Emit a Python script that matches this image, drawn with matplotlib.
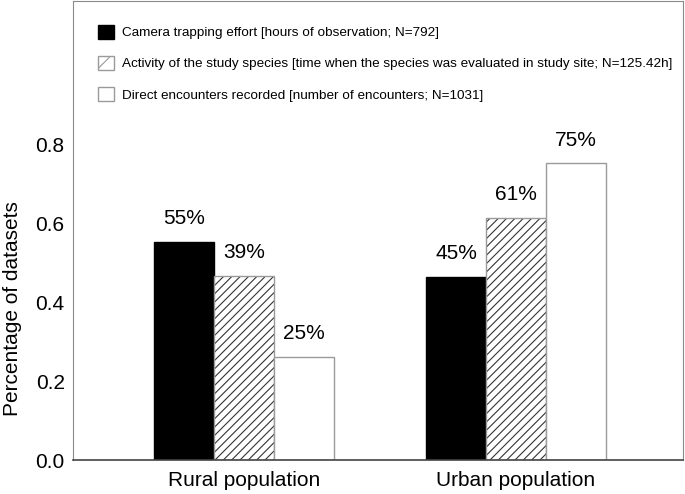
import matplotlib
matplotlib.use("Agg")
import matplotlib.pyplot as plt
from matplotlib.patches import Patch
import numpy as np

plt.rcParams['font.family'] = ['Liberation Sans', 'DejaVu Sans']
plt.rcParams['hatch.linewidth'] = 0.8

groups = ['Rural population', 'Urban population']
series = ['Camera trapping effort [hours of observation; N=792]',
          'Activity of the study species [time when the species was evaluated in study site; N=125.42h]',
          'Direct encounters recorded [number of encounters; N=1031]']
heights = [[0.554, 0.464],
           [0.468, 0.614],
           [0.261, 0.753]]
labels = [['55%', '45%'],
          ['39%', '61%'],
          ['25%', '75%']]

fills = ['black', 'white', 'white']
hatches = [None, '////', None]
edge = '#9a9a9a'

fig = plt.figure(figsize=(6.85, 4.94), dpi=100)
ax = fig.add_axes([0.1066, 0.0688, 0.8904, 0.9292])

x = np.arange(len(groups))
w = 0.22
for i in range(3):
    xs = x + (i - 1) * w
    if hatches[i]:
        ax.bar(xs, heights[i], w, color='white', hatch=hatches[i],
               edgecolor='#333333', linewidth=0)
        ax.bar(xs, heights[i], w, fill=False, edgecolor=edge, linewidth=1)
    else:
        ax.bar(xs, heights[i], w, color=fills[i], edgecolor=edge if fills[i] == 'white' else 'black',
               linewidth=1)
    for xx, h, t in zip(xs, heights[i], labels[i]):
        ax.text(xx, h + 0.035, t, ha='center', va='bottom', fontsize=15)

ax.set_xlim(-0.629, 1.614)
ax.set_ylim(0, 1.165)
ax.set_yticks([0.0, 0.2, 0.4, 0.6, 0.8])
ax.set_yticklabels(['0.0', '0.2', '0.4', '0.6', '0.8'])
ax.set_xticks(x)
ax.set_xticklabels(groups)
ax.tick_params(length=0, labelsize=15, pad=8)
ax.tick_params(axis='y', pad=6)
ax.set_ylabel('Percentage of datasets', fontsize=15)
ax.yaxis.set_label_coords(-0.083, 0.33)

for s in ['left', 'right', 'top']:
    ax.spines[s].set_color('#8a8a8a')
ax.spines['bottom'].set_color('#444444')
ax.spines['bottom'].set_linewidth(1.2)

handles = [Patch(facecolor='black', edgecolor='black'),
           Patch(facecolor='white', edgecolor=edge, hatch='/'),
           Patch(facecolor='white', edgecolor=edge)]
leg = ax.legend(handles, series, loc='upper left', bbox_to_anchor=(0.032, 0.96),
                frameon=False, fontsize=9.7, handlelength=1.2, handleheight=1.2,
                handletextpad=0.6, labelspacing=1.25, borderaxespad=0)

fig.savefig('out.png', dpi=100)
